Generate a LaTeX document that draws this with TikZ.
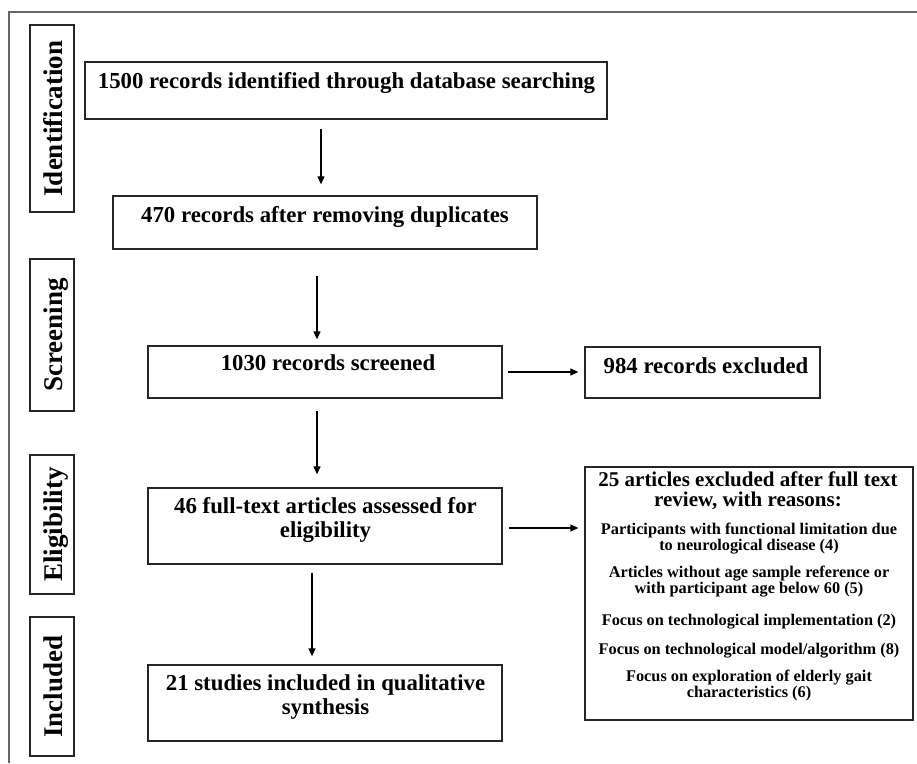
\documentclass[tikz,border=0pt]{standalone}
\usepackage{fontspec}
\setmainfont{Liberation Serif}
\usetikzlibrary{arrows.meta,calc}
\begin{document}
\begin{tikzpicture}[x=1pt,y=-1pt,
  box/.style={draw=black!85,line width=1.3pt,inner sep=0pt,fill=white},
  sidebox/.style={draw=black!85,line width=1.3pt,inner sep=0pt,minimum width=44pt},
  maintxt/.style={font=\fontsize{22.8}{24}\selectfont\bfseries,align=center,inner sep=0pt,anchor=base},
  titletxt/.style={font=\fontsize{21}{19.5}\selectfont\bfseries,align=center,inner sep=0pt,anchor=base},
  smalltxt/.style={font=\fontsize{16.3}{13.5}\selectfont\bfseries,align=center,inner sep=0pt,anchor=base},
  lab/.style={font=\fontsize{27}{28}\selectfont\bfseries,rotate=90,inner sep=0pt,anchor=base},
  arr/.style={-{Triangle[length=8pt,width=7pt]},line width=1.2pt,draw=black}]
\useasboundingbox (0,0) rectangle (917,763);
% outer frame
\draw[line width=1.6pt,draw=black!60] (9,763) -- (9,12) -- (917,12);
% side labels
\node[sidebox,minimum height=187pt] (s1) at (52,118.5) {};
\node[lab] (l1) at (62,118.5) {Identification};
\node[sidebox,minimum height=152pt] (s2) at (52,335) {};
\node[lab] (l2) at (62,335) {Screening};
\node[sidebox,minimum height=139pt] (s3) at (52,524.5) {};
\node[lab] (l3) at (62,524.5) {Eligibility};
\node[sidebox,minimum height=139pt] (s4) at (52,686.5) {};
\node[lab] (l4) at (62,686.5) {Included};
% boxes
\node[box,minimum width=522pt,minimum height=57pt] (b1) at (346,90.5) {};
\node[maintxt] (t1) at (346.5,88) {1500 records identified through database searching};
\node[box,minimum width=424pt,minimum height=53pt] (b2) at (325,222.5) {};
\node[maintxt] (t2) at (325,222) {470 records after removing duplicates};
\node[box,minimum width=354pt,minimum height=52pt] (b3) at (325,372) {};
\node[maintxt] (t3) at (328,370) {1030 records screened};
\node[box,minimum width=235pt,minimum height=51pt] (b4) at (702.5,372.5) {};
\node[maintxt] (t4) at (706,373) {984 records excluded};
\node[box,minimum width=354pt,minimum height=76pt] (b5) at (325,526) {};
\node[maintxt] (t5) at (325.5,537) {46 full-text articles assessed for\\eligibility};
\node[box,minimum width=354pt,minimum height=76pt] (b7) at (325,703) {};
\node[maintxt] (t7) at (325.5,714) {21 studies included in qualitative\\synthesis};
\node[box,minimum width=328pt,minimum height=253pt] (b6) at (749,593.5) {};
\node[titletxt] (t6) at (748,506) {25 articles excluded after full text\\review, with reasons:};
\node[smalltxt] (r1) at (749,550) {Participants with functional limitation due\\to neurological disease (4)};
\node[smalltxt] (r2) at (749,593) {Articles without age sample reference or\\with participant age below 60 (5)};
\node[smalltxt] (r3) at (749,625) {Focus on technological implementation (2)};
\node[smalltxt] (r4) at (749,654) {Focus on technological model/algorithm (8)};
\node[smalltxt] (r5) at (749,697) {Focus on exploration of elderly gait\\characteristics (6)};
% arrows
\coordinate (x1) at (321,0);
\coordinate (x2) at (317,0);
\coordinate (x3) at (312,0);
\coordinate (yh1) at (0,372);
\coordinate (yh2) at (0,528);
\draw[arr,shorten <=9pt,shorten >=11pt] (b1.south -| x1) -- (b2.north -| x1);
\draw[arr,shorten <=26pt,shorten >=6pt] (b2.south -| x2) -- (b3.north -| x2);
\draw[arr,shorten <=12pt,shorten >=13pt] (b3.south -| x2) -- (b5.north -| x2);
\draw[arr,shorten <=8pt,shorten >=8pt] (b5.south -| x3) -- (b7.north -| x3);
\draw[arr,shorten <=5pt,shorten >=6pt] (b3.east |- yh1) -- (b4.west |- yh1);
\draw[arr,shorten <=6pt,shorten >=6pt] (b5.east |- yh2) -- (b6.west |- yh2);
\end{tikzpicture}
\end{document}
